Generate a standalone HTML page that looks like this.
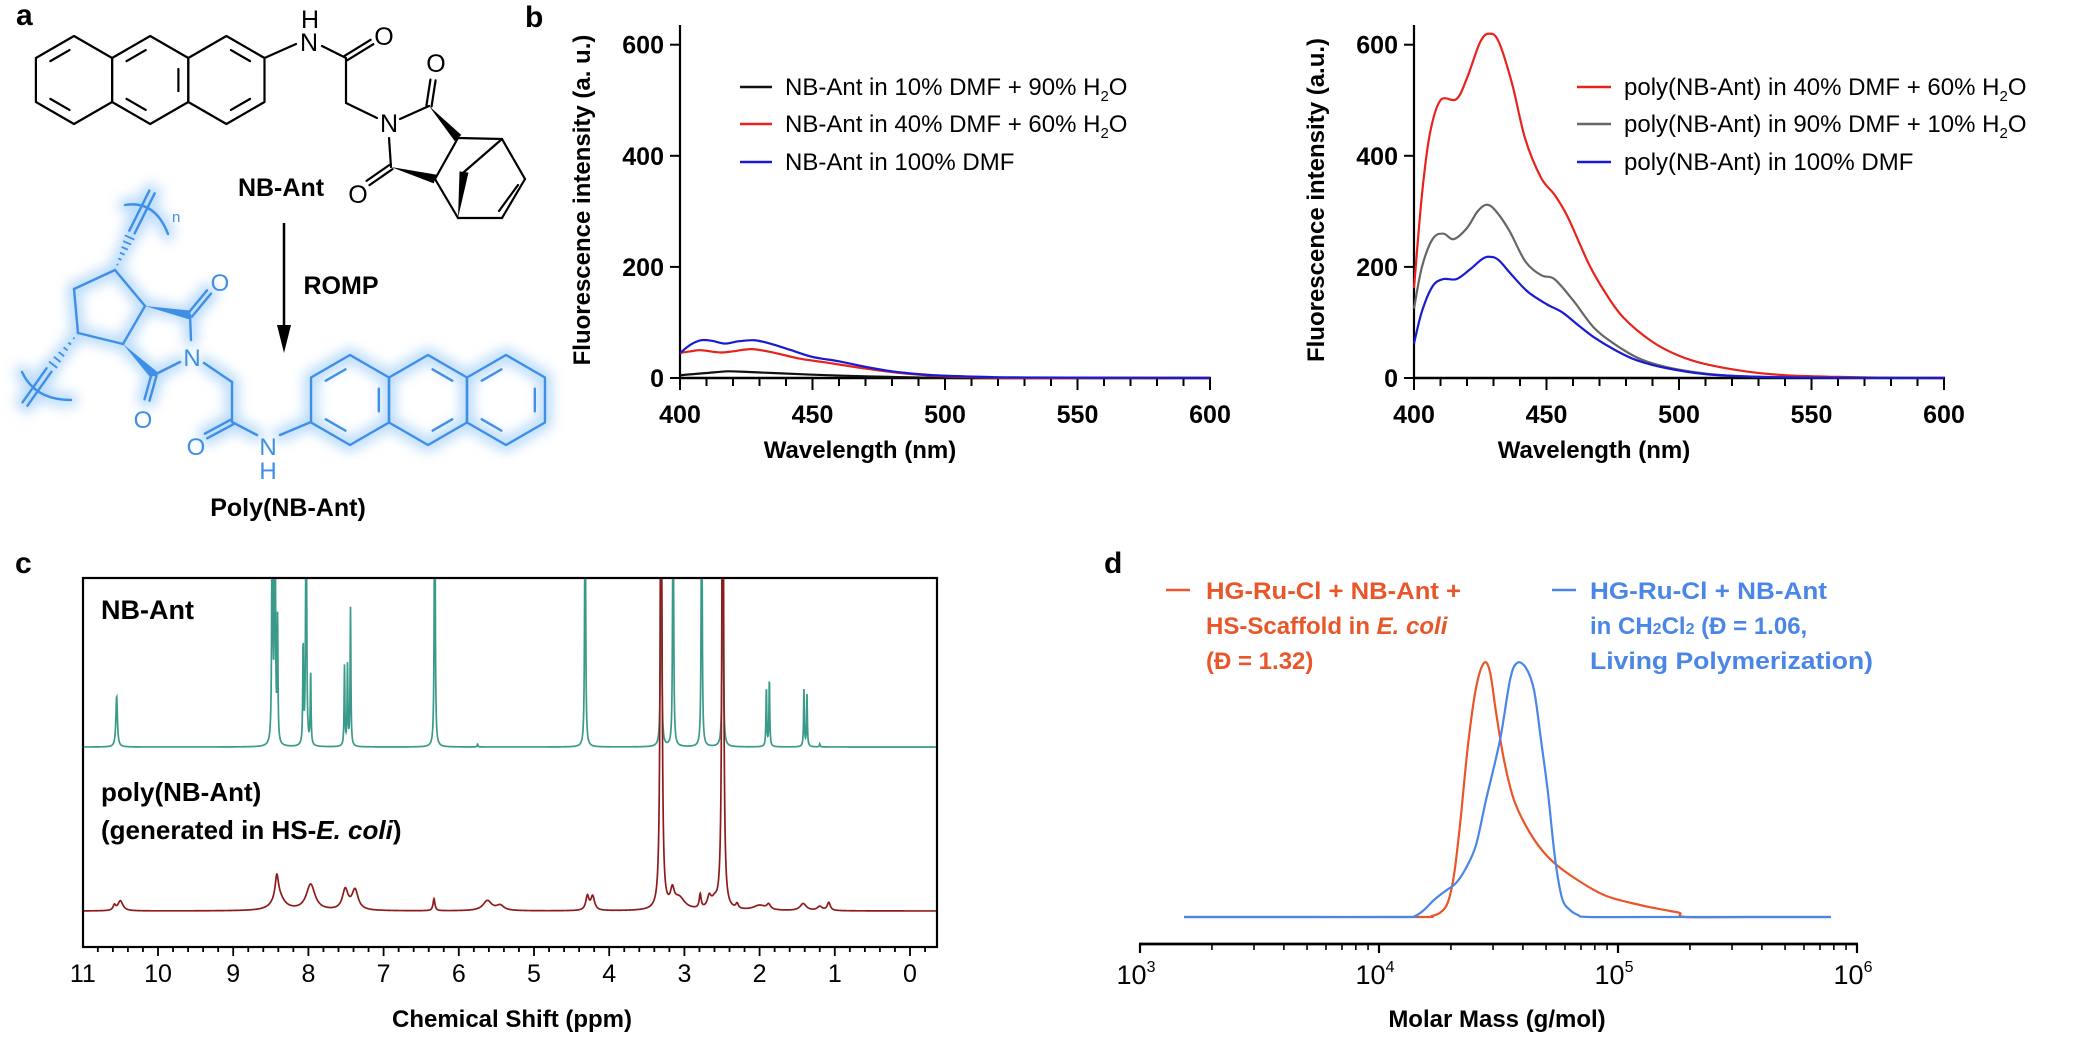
<!DOCTYPE html>
<html><head><meta charset="utf-8">
<style>
html,body{margin:0;padding:0;background:#fff;}
svg{display:block;font-family:"Liberation Sans",sans-serif;}
.k{stroke:#000;stroke-width:2.2;fill:none;stroke-linecap:round}
.bl{stroke:#3f8fe6;stroke-width:2.4;fill:none;stroke-linecap:round}
.gl{stroke:#8cc4f7;stroke-width:14;fill:none;stroke-linecap:round}
</style></head><body>
<svg id="s" width="2088" height="1040" viewBox="0 0 2088 1040" xmlns="http://www.w3.org/2000/svg">
<defs>
<filter id="glow" x="-30%" y="-30%" width="160%" height="160%"><feGaussianBlur stdDeviation="6"/></filter>
<clipPath id="cbox"><rect x="84" y="579" width="852" height="367"/></clipPath>
</defs>
<text x="16" y="25" font-size="30" font-weight="bold">a</text>
<text x="525" y="27" font-size="30" font-weight="bold">b</text>
<text x="15" y="573" font-size="30" font-weight="bold">c</text>
<text x="1104" y="573" font-size="30" font-weight="bold">d</text>
<g id="chem"></g>
<g id="plots"></g>
</svg>
<script>
const S=document.getElementById('plots'), C=document.getElementById('chem');
const NS='http://www.w3.org/2000/svg';
function el(par,tag,attrs,txt){const e=document.createElementNS(NS,tag);for(const k in attrs)e.setAttribute(k,attrs[k]);if(txt!==undefined)e.textContent=txt;par.appendChild(e);return e;}
function ln(par,x1,y1,x2,y2,st,w){el(par,'line',{x1,y1,x2,y2,stroke:st||'#000','stroke-width':w||2,'stroke-linecap':'butt'});}
function txt(par,x,y,s,size,opts){opts=opts||{};const a={x,y,'font-size':size,fill:opts.fill||'#000'};if(opts.bold)a['font-weight']='bold';if(opts.anchor)a['text-anchor']=opts.anchor;if(opts.tr)a.transform=opts.tr;if(opts.tl){a.textLength=opts.tl;a.lengthAdjust='spacingAndGlyphs';}return el(par,'text',a,s);}
function cr(pts){let d='M'+pts[0][0].toFixed(2)+','+pts[0][1].toFixed(2);for(let i=0;i<pts.length-1;i++){const p0=pts[Math.max(0,i-1)],p1=pts[i],p2=pts[i+1],p3=pts[Math.min(pts.length-1,i+2)];const c1=[p1[0]+(p2[0]-p0[0])/6,p1[1]+(p2[1]-p0[1])/6],c2=[p2[0]-(p3[0]-p1[0])/6,p2[1]-(p3[1]-p1[1])/6];d+='C'+c1[0].toFixed(2)+','+c1[1].toFixed(2)+' '+c2[0].toFixed(2)+','+c2[1].toFixed(2)+' '+p2[0].toFixed(2)+','+p2[1].toFixed(2);}return d;}

/* ---------- Panel b ---------- */
function bpanel(ax,series,ylabel,leg,legx,lineLen){
  const y0=378,sy=0.5555,xs=2.65;
  const X=w=>ax+(w-400)*xs, Y=v=>y0-v*sy;
  ln(S,ax,25,ax,y0+1,'#000',2.2);
  ln(S,ax-1,y0,X(600)+1,y0,'#000',2.4);
  for(let w=400;w<=600;w+=10){const maj=(w%50==0);ln(S,X(w),y0,X(w),y0+(maj?12:8),'#000',2);}
  [0,200,400,600].forEach(v=>{ln(S,ax-10,Y(v),ax,Y(v),'#000',2);txt(S,ax-16,Y(v)+9,String(v),25,{bold:1,anchor:'end'});});
  [400,450,500,550,600].forEach(w=>txt(S,X(w),423,String(w),25,{bold:1,anchor:'middle'}));
  txt(S,ax+180,458,'Wavelength (nm)',24,{bold:1,anchor:'middle'});
  txt(S,0,0,ylabel,24,{bold:1,anchor:'middle',tr:'translate('+(ax-90)+',200) rotate(-90)'});
  series.forEach(s=>{el(S,'path',{d:cr(s.p.map(q=>[X(q[0]),Y(q[1])])),stroke:s.c,'stroke-width':2.2,fill:'none'});});
  leg.forEach((l,i)=>{const yy=[87,124,162][i];ln(S,legx,yy,legx+lineLen,yy,l.c,2.4);
    const t=txt(S,legx+lineLen+13,yy+8,'',24);
    l.t.forEach(seg=>{el(t,'tspan',seg.sub?{'font-size':15,dy:6}:(seg.up?{'font-size':24,dy:-6}:{}),seg.s);});
  });
}
const left=[
 {c:'#111',p:[[400,5],[405,7],[410,9],[418,12],[425,11],[435,9],[450,6],[470,3],[490,1],[510,0],[600,0]]},
 {c:'#e8231e',p:[[400,45],[404,48],[408,50],[415,46],[420,48],[427,52],[435,46],[445,35],[455,28],[470,17],[485,8],[500,3],[515,1],[530,0],[600,0]]},
 {c:'#1a1ad0',p:[[400,45],[404,60],[408,68],[412,67],[417,62],[422,66],[428,68],[434,62],[442,50],[450,38],[460,30],[470,20],[480,12],[490,7],[500,4],[515,2],[530,1],[600,0]]}];
bpanel(680,left,'Fluorescence intensity (a. u.)',[
 {c:'#111',t:[{s:'NB-Ant in 10% DMF + 90% H'},{s:'2',sub:1},{s:'O',up:1}]},
 {c:'#e8231e',t:[{s:'NB-Ant in 40% DMF + 60% H'},{s:'2',sub:1},{s:'O',up:1}]},
 {c:'#1a1ad0',t:[{s:'NB-Ant in 100% DMF'}]}],740,32);
const right=[
 {c:'#e8231e',p:[[400,162],[403,330],[406,440],[410,500],[416,502],[420,540],[425,605],[428.5,620],[432,605],[437,530],[442,430],[448,360],[453,330],[458,290],[466,205],[472,155],[479,109],[490,65],[500,40],[510,25],[525,12],[540,5],[560,2],[580,0.5],[600,0]]},
 {c:'#666',p:[[400,125],[403,200],[407,250],[411,260],[415,250],[420,270],[424,300],[427.5,312],[431,300],[436,265],[442,210],[448,185],[453,178],[460,140],[468,90],[476,60],[485,35],[495,20],[510,8],[525,3],[550,1],[600,0]]},
 {c:'#1a1ad0',p:[[400,62],[403,120],[407,165],[411,178],[416,178],[421,195],[426,215],[429,218],[432,212],[437,185],[443,155],[450,133],[456,118],[462,95],[468,73],[476,50],[484,32],[495,18],[510,7],[530,2],[560,0.5],[600,0]]}];
bpanel(1414,right,'Fluorescence intensity (a.u.)',[
 {c:'#e8231e',t:[{s:'poly(NB-Ant) in 40% DMF + 60% H'},{s:'2',sub:1},{s:'O',up:1}]},
 {c:'#666',t:[{s:'poly(NB-Ant) in 90% DMF + 10% H'},{s:'2',sub:1},{s:'O',up:1}]},
 {c:'#1a1ad0',t:[{s:'poly(NB-Ant) in 100% DMF'}]}],1577,34);

/* ---------- Panel c ---------- */
(function(){
 const X=p=>910-75.2*p;
 el(S,'rect',{x:83,y:578,width:854,height:369,fill:'none',stroke:'#000','stroke-width':2.2});
 for(let i=-2;i<=55;i++){const p=i/5;const x=X(p);if(x<83||x>937)continue;const maj=(i%5==0);ln(S,x,947,x,947+(maj?9:5),'#000',1.8);}
 for(let p=0;p<=11;p++)txt(S,X(p),982,String(p),25,{anchor:'middle'});
 txt(S,512,1027,'Chemical Shift (ppm)',24,{bold:1,anchor:'middle'});
 txt(S,101,619,'NB-Ant',27,{bold:1});
 txt(S,101,801,'poly(NB-Ant)',26,{bold:1});
 const t=txt(S,101,839,'',26,{bold:1});el(t,'tspan',{},'(generated in HS-');el(t,'tspan',{'font-style':'italic'},'E. coli');el(t,'tspan',{},')');
 function spec(base,peaks,col){const pts=[];for(let x=84;x<=936;x+=0.25){const p=(910-x)/75.2;let v=0;for(const k of peaks){const d=(p-k[0])/k[2];v+=k[1]/(1+d*d);}pts.push(x.toFixed(2)+','+Math.max(560,base-v).toFixed(2));}
  el(S,'polyline',{points:pts.join(' '),fill:'none',stroke:col,'stroke-width':1.7,'clip-path':'url(#cbox)'});}
 const w=0.006;
 spec(747,[[10.55,51,0.012],[8.48,400,w],[8.445,400,w],[8.41,123,w],[8.07,100,w],[8.03,400,w],[7.97,73,w],[7.52,80,w],[7.48,80,w],[7.44,138,w],[6.32,400,w],[4.32,400,w],[3.31,400,w],[3.15,400,w],[2.77,400,w],[2.49,400,w],[1.91,60,w],[1.87,68,w],[1.41,57,w],[1.37,52,w],[5.75,3,w],[1.2,3,w]],'#3a9a8a');
 spec(911,[[10.58,5,0.02],[10.5,10,0.04],[8.42,22,0.025],[8.4,15,0.09],[7.97,26,0.07],[7.51,20,0.045],[7.38,20,0.05],[6.33,12,0.015],[5.62,10,0.07],[5.45,5,0.06],[4.29,14,0.025],[4.22,14,0.03],[3.31,600,0.012],[3.16,16,0.03],[3.07,12,0.09],[2.79,14,0.015],[2.67,11,0.03],[2.6,8,0.05],[2.49,600,0.012],[2.3,5,0.02],[2.0,5,0.1],[1.88,5,0.03],[1.42,7,0.05],[1.2,4,0.04],[1.08,8,0.025]],'#8e1b1b');
})();

/* ---------- Panel d ---------- */
(function(){
 const X=l=>1140+239*(l-3);
 ln(S,1139,944,1858,944,'#000',2.8);
 for(let e=3;e<=6;e++){ln(S,X(e),944,X(e),953,'#000',2.2);if(e<6)for(let m=2;m<=9;m++){const x=X(e+Math.log10(m));ln(S,x,944,x,950,'#000',1.6);}
  const t=txt(S,X(e)-4,984,'',27,{anchor:'middle'});el(t,'tspan',{},'10');el(t,'tspan',{'font-size':16,dy:-12},String(e));}
 txt(S,1497,1027,'Molar Mass (g/mol)',24,{bold:1,anchor:'middle'});
 const orange='#e8562a',blue='#4a86e8';
 const op=[[1184,917],[1300,917],[1420,917],[1432,916],[1441,912],[1448,902],[1454,875],[1460,825],[1468,745],[1476,688],[1484,663],[1490,672],[1496,712],[1504,760],[1514,800],[1530,833],[1548,857],[1570,875],[1604,895],[1640,905],[1670,911],[1680,913],[1686,917],[1750,917],[1831,917]];
 const bp=[[1184,917],[1300,917],[1405,917],[1415,916],[1424,910],[1434,900],[1444,892],[1456,883],[1466,868],[1476,845],[1486,800],[1500,740],[1510,680],[1517,663],[1526,668],[1534,690],[1541,740],[1548,793],[1555,858],[1562,898],[1570,910],[1578,915],[1588,917],[1650,917],[1831,917]];
 el(S,'path',{d:cr(op),stroke:orange,'stroke-width':2.2,fill:'none'});
 el(S,'path',{d:cr(bp),stroke:blue,'stroke-width':2.2,fill:'none'});
 ln(S,1166,590,1190,590,orange,2.4);ln(S,1552,590,1576,590,blue,2.4);
 txt(S,1206,599,'HG-Ru-Cl + NB-Ant +',24,{fill:orange,bold:1,tl:255});
 const t1=txt(S,1206,634,'',24,{fill:orange,bold:1});el(t1,'tspan',{},'HS-Scaffold in ');el(t1,'tspan',{'font-style':'italic'},'E. coli');
 txt(S,1206,669,'(Đ = 1.32)',24,{fill:orange,bold:1});
 txt(S,1590,599,'HG-Ru-Cl + NB-Ant',24,{fill:blue,bold:1,tl:237});
 const t2=txt(S,1590,634,'',24,{fill:blue,bold:1});el(t2,'tspan',{},'in CH');el(t2,'tspan',{'font-size':16},'2');el(t2,'tspan',{},'Cl');el(t2,'tspan',{'font-size':16},'2');el(t2,'tspan',{},' (Đ = 1.06,');
 txt(S,1590,669,'Living Polymerization)',24,{fill:blue,bold:1,tl:283});
})();

/* ---------- Panel a chemistry ---------- */
function L(par,a,b,cls){el(par,'line',{x1:a[0],y1:a[1],x2:b[0],y2:b[1],class:cls});}
function hex(par,cx,cy,r,edges,cls){const v=[];for(let i=0;i<6;i++){const an=-Math.PI/2+i*Math.PI/3;v.push([cx+r*Math.cos(an),cy+r*Math.sin(an)]);}
 el(par,'polygon',{points:v.map(p=>p.join(',')).join(' '),class:cls,'stroke-linejoin':'round'});
 edges.forEach(i=>{const a=v[i],b=v[(i+1)%6];const f=0.74;const ia=[cx+(a[0]-cx)*f,cy+(a[1]-cy)*f],ib=[cx+(b[0]-cx)*f,cy+(b[1]-cy)*f];const m=0.16;L(par,[ia[0]+(ib[0]-ia[0])*m,ia[1]+(ib[1]-ia[1])*m],[ib[0]+(ia[0]-ib[0])*m,ib[1]+(ia[1]-ib[1])*m],cls);});return v;}
function wedge(par,a,b,w,col,cls){const dx=b[0]-a[0],dy=b[1]-a[1],l=Math.hypot(dx,dy),nx=-dy/l*w,ny=dx/l*w;if(cls){L(par,a,b,cls);return;}el(par,'polygon',{points:[a,[b[0]+nx,b[1]+ny],[b[0]-nx,b[1]-ny]].map(p=>p.join(',')).join(' '),fill:col});}
function hash(par,a,b,n,w,col,cls){if(cls){L(par,a,b,cls);return;}const dx=b[0]-a[0],dy=b[1]-a[1],l=Math.hypot(dx,dy),nx=-dy/l,ny=dx/l;for(let i=1;i<=n;i++){const t=i/(n+1),hw=w*t,cx=a[0]+dx*t,cy=a[1]+dy*t;el(par,'line',{x1:cx+nx*hw,y1:cy+ny*hw,x2:cx-nx*hw,y2:cy-ny*hw,stroke:col,'stroke-width':1.8});}}
function dbl(par,a,b,off,cls){const dx=b[0]-a[0],dy=b[1]-a[1],l=Math.hypot(dx,dy),nx=-dy/l*off,ny=dx/l*off;L(par,[a[0]+nx,a[1]+ny],[b[0]+nx,b[1]+ny],cls);L(par,[a[0]-nx,a[1]-ny],[b[0]-nx,b[1]-ny],cls);}
(function(){
 const g=C;
 hex(g,74,80,44,[5,3],'k');hex(g,150.2,80,44,[5,3,1],'k');hex(g,226.4,80,44,[0,2],'k');
 L(g,[264.5,58],[296,44],'k');
 txt(g,309,51,'N',25,{anchor:'middle'});txt(g,310,28,'H',25,{anchor:'middle'});
 L(g,[322,46],[346,58],'k');dbl(g,[346,58],[372,42],2.6,'k');txt(g,384,45,'O',25,{anchor:'middle'});
 L(g,[346,58],[346,103],'k');L(g,[346,103],[377,118],'k');
 txt(g,389,132,'N',25,{anchor:'middle'});
 L(g,[400,119],[429,106],'k');dbl(g,[429,106],[433,80],2.6,'k');txt(g,436,72,'O',25,{anchor:'middle'});
 L(g,[389,138],[391,167],'k');dbl(g,[391,167],[368,183],2.6,'k');txt(g,358,203,'O',25,{anchor:'middle'});
 wedge(g,[429,106],[458,138],4.5,'#000');wedge(g,[391,167],[435,179],4.5,'#000');
 const A=[458,138],B=[502,139],Cc=[525,179],D=[502,218],E=[458,218],F=[435,179];
 L(g,A,B,'k');L(g,B,Cc,'k');L(g,Cc,D,'k');L(g,D,E,'k');L(g,E,F,'k');L(g,F,A,'k');
 L(g,[518,185],[499,211],'k');
 wedge(g,E,[464,172],4.5,'#000');L(g,[464,172],B,'k');
 txt(g,281,196,'NB-Ant',25,{bold:1,anchor:'middle'});
 ln(g,284,223,284,330,'#000',2.5);el(g,'polygon',{points:'277,325 291,325 284,353',fill:'#000'});
 txt(g,341,294,'ROMP',25,{bold:1,anchor:'middle'});
 txt(g,288,516,'Poly(NB-Ant)',25,{bold:1,anchor:'middle'});
 const bg=el(g,'g',{filter:'url(#glow)',opacity:0.6});
 const fg=el(g,'g',{});
 [[bg,'gl'],[fg,'bl']].forEach(([par,cls])=>{
  const glow=(cls=='gl');const col=glow?'#8cc4f7':'#3f8fe6';
  const P1=[115,270],P2=[145,306],P3=[123,344],P4=[78,333],P5=[74,289];
  L(par,P1,P2,cls);L(par,P2,P3,cls);L(par,P3,P4,cls);L(par,P4,P5,cls);L(par,P5,P1,cls);
  const C1=[190,315],C2=[154,375];
  wedge(par,P2,C1,4.5,col,glow?cls:null);wedge(par,P3,C2,4.5,col,glow?cls:null);
  dbl(par,C1,[209,292],2.6,cls);if(!glow)txt(par,220,291,'O',24,{fill:col,anchor:'middle'});
  L(par,C1,[191,340],cls);if(!glow)txt(par,192,366,'N',24,{fill:col,anchor:'middle'});
  L(par,[180,362],C2,cls);dbl(par,C2,[147,400],2.6,cls);if(!glow)txt(par,143,428,'O',24,{fill:col,anchor:'middle'});
  hash(par,P1,[132,232],6,6,col,glow?cls:null);dbl(par,[132,232],[152,192],3,cls);
  el(par,'path',{d:'M125,205 Q155,200 168,234',class:cls});if(!glow)txt(par,172,222,'n',15,{fill:col});
  hash(par,P4,[49,370],6,6,col,glow?cls:null);dbl(par,[49,370],[25,404],3,cls);
  el(par,'path',{d:'M22,372 Q35,400 71,400',class:cls});
  L(par,[204,363],[232,382],cls);L(par,[232,382],[232,422],cls);dbl(par,[232,422],[206,436],2.6,cls);
  if(!glow){txt(par,196,455,'O',24,{fill:col,anchor:'middle'});txt(par,268,455,'N',24,{fill:col,anchor:'middle'});txt(par,268,479,'H',24,{fill:col,anchor:'middle'});}
  L(par,[232,422],[257,435],cls);
  L(par,[280,435],[311,422],cls);
  hex(par,350,400,45,glow?[]:[5,3,1],cls);hex(par,428,400,45,glow?[]:[0,2],cls);hex(par,506,400,45,glow?[]:[1,5,3],cls);
 });
})();
</script>
</body></html>
